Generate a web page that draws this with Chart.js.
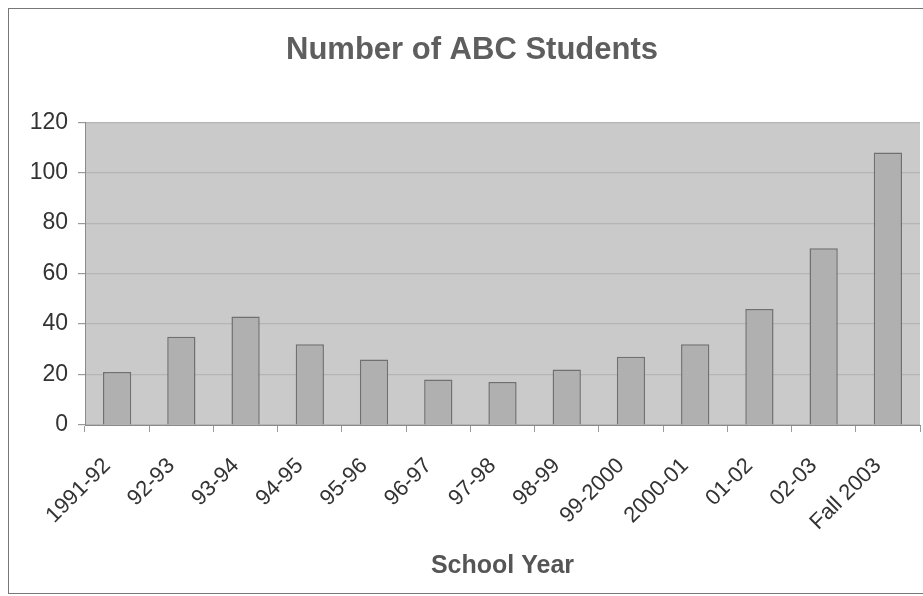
<!DOCTYPE html>
<html>
<head>
<meta charset="utf-8">
<script src="https://cdn.jsdelivr.net/npm/chart.js@4/dist/chart.umd.min.js"></script>
<style>
  html, body { margin: 0; padding: 0; background: #fff; overflow: hidden; }
  #wrap { position: relative; width: 923px; height: 596px; overflow: hidden; }
  #frame { position: absolute; left: 8px; top: 8px; width: 925px; height: 586px; border: 1.5px solid #777; box-sizing: border-box; pointer-events: none; }
</style>
</head>
<body>
<div id="wrap">
  <canvas id="myChart" width="923" height="596"></canvas>
  <div id="frame"></div>
</div>
<script>
const years = ['1991-92', '92-93', '93-94', '94-95', '95-96', '96-97', '97-98', '98-99', '99-2000', '2000-01', '01-02', '02-03', 'Fall 2003'];
const students = [21, 35, 43, 32, 26, 18, 17, 22, 27, 32, 46, 70, 108];
const yTicks = [0, 20, 40, 60, 80, 100, 120];

// fill the plot area grey like the original
const plotBg = {
  id: 'plotBg',
  beforeDraw(chart) {
    const a = chart.chartArea;
    const c = chart.ctx;
    c.save();
    c.fillStyle = '#cacaca';
    c.fillRect(a.left, a.top, a.right - a.left, a.bottom - a.top);
    c.restore();
  }
};

const ctx = document.getElementById('myChart').getContext('2d');
const myChart = new Chart(ctx, {
  type: 'bar',
  data: {
    labels: years,
    datasets: [{
      label: 'Students',
      data: students,
      backgroundColor: '#b0b0b0',
      borderColor: '#707070',
      borderWidth: 1.5,
      barPercentage: 0.44,
      categoryPercentage: 1
    }]
  },
  plugins: [plotBg],
  options: {
    responsive: false,
    animation: false,
    layout: { padding: { left: 24, right: 3, top: 8, bottom: 10 } },
    plugins: {
      legend: { display: false },
      tooltip: { enabled: false },
      title: {
        display: true,
        text: 'Number of ABC Students',
        color: '#5e5e5e',
        font: { family: 'Liberation Sans', size: 31, weight: 'bold' },
        padding: { top: 24, bottom: 53 }
      }
    },
    scales: {
      x: {
        afterFit: (scale) => {
          scale.height = 161;
          scale.paddingLeft = 0;
          scale.paddingRight = 0;
        },
        grid: { drawOnChartArea: false, drawTicks: true, tickLength: 7, color: '#9a9a9a' },
        border: { color: '#8a8a8a' },
        ticks: {
          color: '#333',
          font: { family: 'Liberation Sans', size: 22 },
          minRotation: 45,
          maxRotation: 45,
          padding: 21,
          labelOffset: -10
        },
        title: {
          display: true,
          text: 'School Year',
          color: '#555',
          font: { family: 'Liberation Sans', size: 25, weight: 'bold' },
          padding: { top: 0, bottom: 5 }
        }
      },
      y: {
        min: 0,
        max: 120,
        afterBuildTicks: (scale) => { scale.ticks = yTicks.map(v => ({ value: v })); },
        afterFit: (scale) => { scale.width = 61; },
        grid: { color: '#b5b5b5', lineWidth: 1.2, tickLength: 7, tickColor: '#9a9a9a' },
        border: { color: '#8a8a8a' },
        ticks: {
          color: '#333',
          font: { family: 'Liberation Sans', size: 23 },
          padding: 10
        }
      }
    }
  }
});
</script>
</body>
</html>
